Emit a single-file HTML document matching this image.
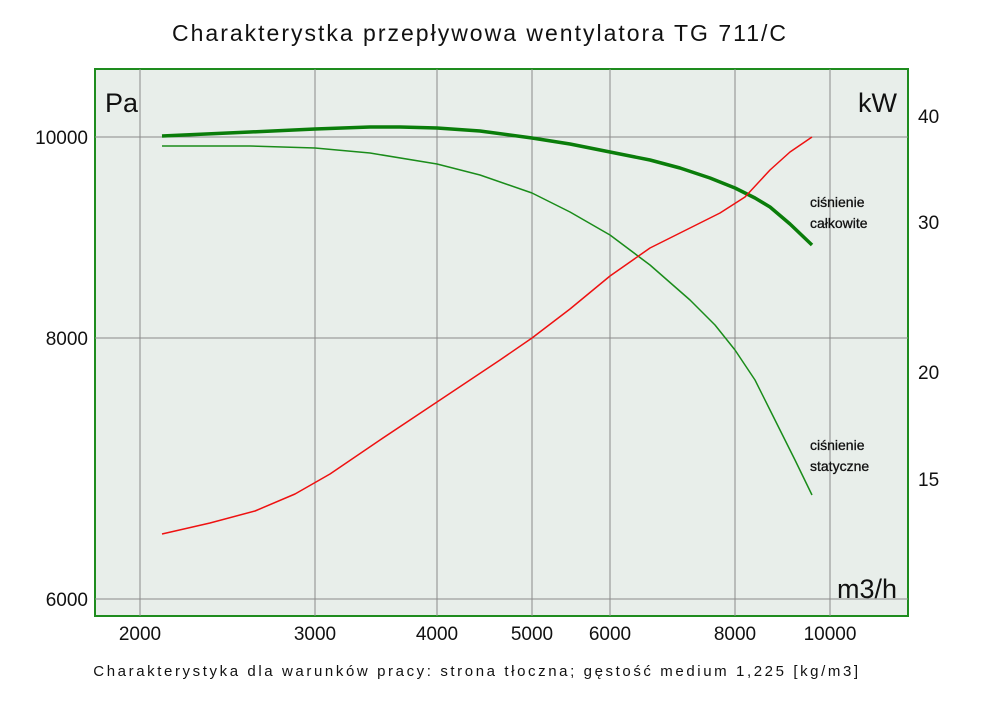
<!DOCTYPE html>
<html><head><meta charset="utf-8"><style>
body{margin:0;background:#fff;}
svg{display:block;font-family:"Liberation Sans","DejaVu Sans",sans-serif;}
</style></head><body>
<svg width="1000" height="706" viewBox="0 0 1000 706">
<text x="480" y="41" text-anchor="middle" font-size="23" letter-spacing="2" fill="#111">Charakterystka przepływowa wentylatora TG 711/C</text>
<rect x="95" y="69" width="813" height="547" fill="#e8eeea" stroke="#1e8c1e" stroke-width="2"/>
<g stroke="#8a8a8a" stroke-width="1">
<line x1="140" y1="69" x2="140" y2="616"/><line x1="315" y1="69" x2="315" y2="616"/>
<line x1="437" y1="69" x2="437" y2="616"/><line x1="532" y1="69" x2="532" y2="616"/>
<line x1="610" y1="69" x2="610" y2="616"/><line x1="735" y1="69" x2="735" y2="616"/>
<line x1="830" y1="69" x2="830" y2="616"/>
<line x1="95" y1="137" x2="908" y2="137"/><line x1="95" y1="338" x2="908" y2="338"/>
<line x1="95" y1="599" x2="908" y2="599"/>
</g>
<text x="105" y="112" font-size="27" fill="#111">Pa</text>
<text x="897" y="112" font-size="27" fill="#111" text-anchor="end">kW</text>
<text x="897" y="598" font-size="27" fill="#111" text-anchor="end">m3/h</text>
<g font-size="19" fill="#111" text-anchor="end">
<text x="88" y="144">10000</text><text x="88" y="345">8000</text><text x="88" y="606">6000</text>
</g>
<g font-size="19" fill="#111">
<text x="918" y="123">40</text><text x="918" y="229">30</text><text x="918" y="379">20</text><text x="918" y="486">15</text>
</g>
<g font-size="19" fill="#111" text-anchor="middle">
<text x="140" y="640">2000</text><text x="315" y="640">3000</text><text x="437" y="640">4000</text>
<text x="532" y="640">5000</text><text x="610" y="640">6000</text><text x="735" y="640">8000</text><text x="830" y="640">10000</text>
</g>
<text x="477" y="676" text-anchor="middle" font-size="15" letter-spacing="2.6" fill="#111">Charakterystyka dla warunków pracy: strona tłoczna; gęstość medium 1,225 [kg/m3]</text>
<g font-size="14" fill="#111" stroke="#111" stroke-width="0.3">
<text x="810" y="207">ciśnienie</text><text x="810" y="228">całkowite</text>
<text x="810" y="450">ciśnienie</text><text x="810" y="471">statyczne</text>
</g>
<g fill="none" stroke-linejoin="round">
<polyline stroke="#0a7d0a" stroke-width="3.5" points="162,136 250,132 315,129 370,127 400,127 437,128 480,131 532,138 570,144 610,152 650,160 680,168 710,178 735,188 755,198 770,207 790,224 812,245"/>
<polyline stroke="#1a8c1a" stroke-width="1.5" points="162,146 250,146 315,148 370,153 437,164 480,175 532,193 570,212 610,235 650,265 690,300 715,325 735,350 755,380 770,410 795,460 812,495"/>
<polyline stroke="#ee1111" stroke-width="1.5" points="162,534 210,523 255,511 295,494 330,474 380,440 437,402 500,360 532,338 570,309 610,276 650,248 690,228 720,213 745,197 770,170 790,152 812,137"/>
</g>
</svg>
</body></html>
